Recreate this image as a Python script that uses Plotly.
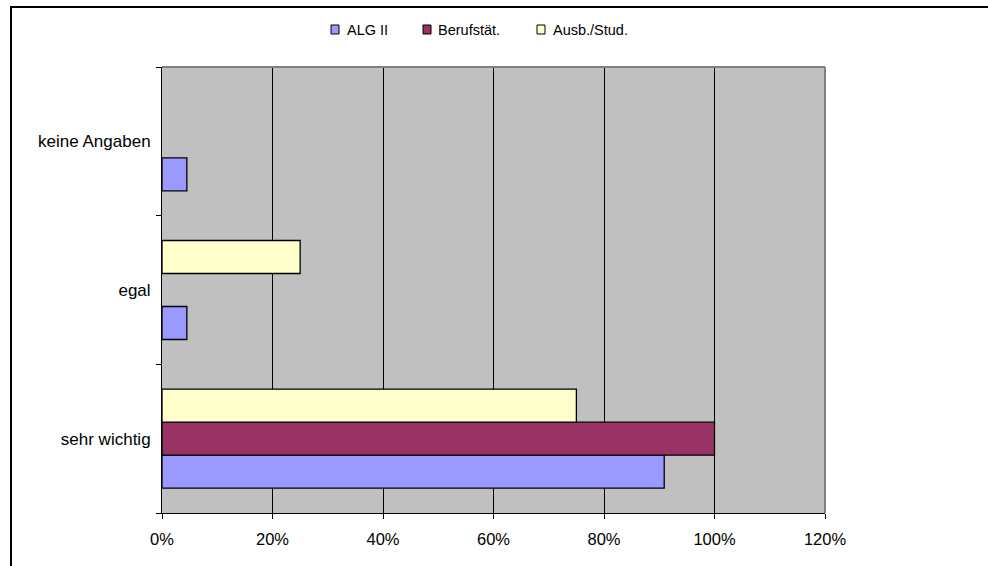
import plotly.graph_objects as go

categories = ["sehr wichtig", "egal", "keine Angaben"]
series_names = ["ALG II", "Berufstät.", "Ausb./Stud."]
alg_ii = [0.909, 0.045, 0.045]
berufstaet = [1.0, 0.0, 0.0]
ausb_stud = [0.75, 0.25, 0.0]
x_ticks = [0, 0.2, 0.4, 0.6, 0.8, 1.0, 1.2]
x_tick_labels = ["0%", "20%", "40%", "60%", "80%", "100%", "120%"]

colors = ["#9999FF", "#993366", "#FFFFCC"]
values = [alg_ii, berufstaet, ausb_stud]

W, H = 988, 566
L, R, T, B = 162, 163, 67, 53
pw, ph = W - L - R, H - T - B

def px_x(px):
    return (px - L) / pw

def px_y(py):
    return (H - B - py) / ph

FONT = "Arial, 'Liberation Sans', sans-serif"

fig = go.Figure()
for name, vals, col in zip(series_names, values, colors):
    fig.add_trace(go.Bar(
        y=categories, x=vals, name=name, orientation="h",
        marker=dict(color=col, line=dict(color="#000000",
                                         width=[1.3 if v > 0 else 0 for v in vals])),
        showlegend=False,
    ))

shapes = []
annotations = []
# outer chart border (left + top visible only)
shapes.append(dict(type="line", xref="paper", yref="paper",
                   x0=px_x(11), x1=px_x(11), y0=px_y(566), y1=px_y(7),
                   line=dict(color="#000000", width=2), layer="above"))
shapes.append(dict(type="line", xref="paper", yref="paper",
                   x0=px_x(10), x1=px_x(988), y0=px_y(7), y1=px_y(7),
                   line=dict(color="#000000", width=2), layer="above"))
# plot area border top & right (gray)
shapes.append(dict(type="line", xref="paper", yref="paper", x0=0, x1=1, y0=1, y1=1,
                   line=dict(color="#808080", width=2), layer="above"))
shapes.append(dict(type="line", xref="paper", yref="paper", x0=1, x1=1, y0=0, y1=1,
                   line=dict(color="#808080", width=2), layer="above"))

# custom legend
box_left = [331, 423, 537]
text_left = [345, 436, 551]
for name, col, bx, tx in zip(series_names, colors, box_left, text_left):
    shapes.append(dict(type="rect", xref="paper", yref="paper",
                       x0=px_x(bx), x1=px_x(bx + 8), y0=px_y(34), y1=px_y(25),
                       line=dict(color="#000000", width=1), fillcolor=col, layer="above"))
    annotations.append(dict(text=name, xref="paper", yref="paper",
                            x=px_x(tx), y=px_y(30), xanchor="left", yanchor="middle",
                            showarrow=False, font=dict(family=FONT, size=14.5, color="#000000")))

fig.update_layout(
    width=W, height=H,
    margin=dict(l=L, r=R, t=T, b=B, pad=0),
    paper_bgcolor="#FFFFFF",
    plot_bgcolor="#C0C0C0",
    barmode="group",
    bargap=0.334,
    bargroupgap=0,
    showlegend=False,
    font=dict(family=FONT, size=16, color="#000000"),
    shapes=shapes,
    annotations=annotations,
    xaxis=dict(
        range=[0, 1.2], tickvals=x_ticks, ticktext=x_tick_labels,
        showgrid=True, gridcolor="#000000", gridwidth=1,
        showline=True, linecolor="#000000", linewidth=1,
        ticks="outside", ticklen=5, tickcolor="#000000",
        zeroline=False, tickfont=dict(size=16.5), ticklabelstandoff=6,
        fixedrange=True,
    ),
    yaxis=dict(
        categoryorder="array", categoryarray=categories,
        showgrid=False, showline=True, linecolor="#000000", linewidth=1,
        ticks="outside", ticklen=5, tickcolor="#000000", tickson="boundaries",
        tickfont=dict(size=17), ticklabelstandoff=7, fixedrange=True,
    ),
)

fig.write_html("out.html")
